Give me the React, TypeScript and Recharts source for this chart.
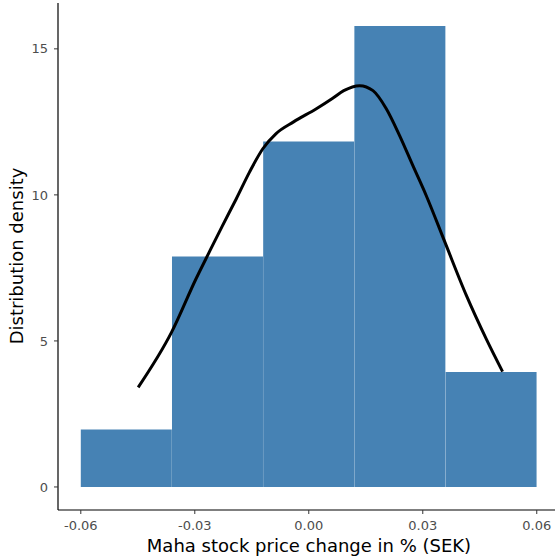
import { ComposedChart, Bar, Line, XAxis, YAxis } from "recharts";

// histogram bins (centres) and their densities
const binCenters = [-0.048, -0.024, 0.0, 0.024, 0.048];
const binDensity = [1.97, 7.89, 11.83, 15.78, 3.94];

// kernel density estimate
const kdeX = [
  -0.0449, -0.0361, -0.0297, -0.0262, -0.0227, -0.0191, -0.0156, -0.0121, -0.0086,
  -0.004, 0.002, 0.0062, 0.0092, 0.0134, 0.0169, 0.0204, 0.0239, 0.0274, 0.0309,
  0.0358, 0.0415, 0.0467, 0.051,
];
const kdeY = [
  3.41, 5.3, 7.12, 8.04, 8.95, 9.86, 10.78, 11.58, 12.1, 12.5, 12.95, 13.3, 13.57,
  13.74, 13.57, 12.95, 12.03, 11.0, 9.98, 8.39, 6.55, 5.07, 3.95,
];

const xTicks = [-0.06, -0.03, 0.0, 0.03, 0.06];
const yTicks = [0, 5, 10, 15];

const bars = binCenters.map((x, i) => ({ x, density: binDensity[i] }));
const kde = kdeX.map((x, i) => ({ x, density: kdeY[i] }));

const xDomain = [-0.066, 0.0648];
const yDomain = [-0.789, 16.57];
const font = "DejaVu Sans, sans-serif";

const XTitle = () => (
  <text x={309} y={552} textAnchor="middle" fontSize={18} fontFamily={font} fill="#000">
    Maha stock price change in % (SEK)
  </text>
);

const YTitle = () => (
  <text
    transform="translate(23,256) rotate(-90)"
    textAnchor="middle"
    fontSize={18}
    fontFamily={font}
    fill="#000"
  >
    Distribution density
  </text>
);

export default function App() {
  return (
    <div style={{ position: "absolute", left: 0, top: 0, fontFamily: font }}>
      <ComposedChart
        width={555}
        height={558}
        data={bars}
        margin={{ top: 3, right: 0, bottom: 0, left: 0 }}
        barCategoryGap={0}
        barGap={0}
      >
        <XAxis xAxisId="bins" type="number" dataKey="x" domain={xDomain} hide allowDataOverflow />
        <XAxis
          type="number"
          dataKey="x"
          domain={xDomain}
          ticks={xTicks}
          allowDataOverflow
          height={48}
          tickFormatter={(v) => v.toFixed(2)}
          tick={{ fill: "#4d4d4d", fontSize: 13, fontFamily: font }}
          tickSize={4}
          tickMargin={7}
          axisLine={{ stroke: "#000", strokeWidth: 1.2 }}
          tickLine={{ stroke: "#333" }}
          label={{ content: () => <XTitle /> }}
        />
        <YAxis
          type="number"
          domain={yDomain}
          ticks={yTicks}
          allowDataOverflow
          width={58}
          tick={{ fill: "#4d4d4d", fontSize: 13, fontFamily: font }}
          tickSize={4}
          tickMargin={6}
          axisLine={{ stroke: "#000", strokeWidth: 1.2 }}
          tickLine={{ stroke: "#333" }}
          label={{ content: () => <YTitle /> }}
        />
        <Bar xAxisId="bins" dataKey="density" fill="#4682b4" isAnimationActive={false} />
        <Line
          data={kde}
          dataKey="density"
          type="monotone"
          stroke="#000"
          strokeWidth={3}
          dot={false}
          activeDot={false}
          isAnimationActive={false}
        />
      </ComposedChart>
    </div>
  );
}
